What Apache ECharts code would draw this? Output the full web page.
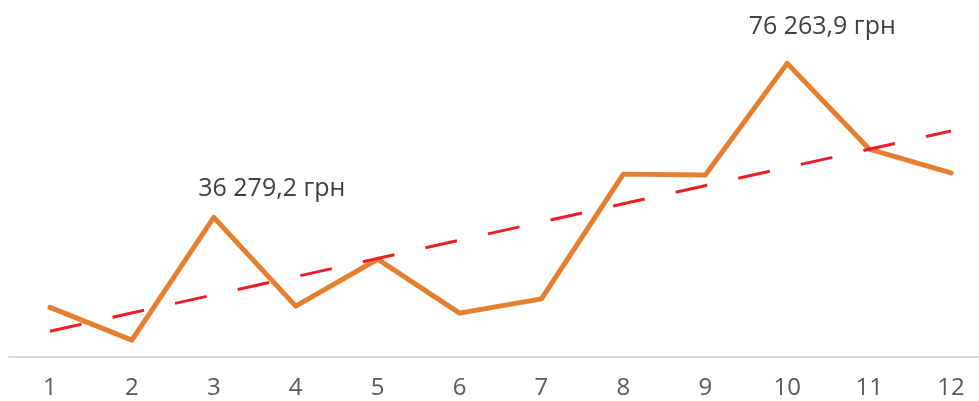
<!DOCTYPE html>
<html>
<head>
<meta charset="utf-8">
<script src="https://cdn.jsdelivr.net/npm/echarts@6/dist/echarts.min.js"></script>
<style>
  html, body { margin: 0; padding: 0; background: #fff; }
  #chart { width: 979px; height: 401px; }
</style>
</head>
<body>
<div id="chart"></div>
<script>
var months = ['1', '2', '3', '4', '5', '6', '7', '8', '9', '10', '11', '12'];
var revenue = [12900, 4400, 36279.2, 13200, 25400, 11400, 15100, 47500, 47300, 76263.9, 54000, 47800];
// linear trend, read at first and last category
var trendStart = 6700;
var trendEnd = 58700;
// which points carry a label, and where it sits
var labelled = { 2: [58, -11], 9: [35, -19] };

function fmt(v) {
  var parts = v.toFixed(1).split('.');
  var int = parts[0].replace(/\B(?=(\d{3})+(?!\d))/g, ' ');
  return int + ',' + parts[1] + ' грн';
}

var lineData = revenue.map(function (v, i) {
  var item = { value: v };
  if (labelled[i]) {
    item.label = {
      show: true,
      position: 'top',
      offset: labelled[i],
      formatter: function (p) { return fmt(p.value); },
      fontFamily: 'Open Sans',
      fontSize: 25,
      color: '#404040'
    };
  }
  return item;
});

var chart = echarts.init(document.getElementById('chart'));
chart.setOption({
  animation: false,
  grid: { left: 9, width: 983, top: 49, bottom: 44, containLabel: false, outerBoundsMode: 'none' },
  xAxis: {
    type: 'category',
    data: months,
    boundaryGap: true,
    axisLine: { show: true, lineStyle: { color: '#d9d9d9', width: 2 } },
    axisTick: { show: false },
    axisLabel: {
      margin: 19,
      fontFamily: 'Open Sans',
      fontSize: 24,
      color: '#595959'
    }
  },
  yAxis: {
    type: 'value',
    min: 0,
    max: 80000,
    show: false,
    splitLine: { show: false }
  },
  series: [
    {
      name: 'Выручка',
      type: 'line',
      data: lineData,
      symbol: 'circle',
      symbolSize: 0,
      showSymbol: true,
      lineStyle: { color: '#e67e30', width: 5, cap: 'round', join: 'round' },
      itemStyle: { color: '#e67e30' },
      z: 3,
      markLine: {
        silent: true,
        symbol: 'none',
        label: { show: false },
        lineStyle: { color: '#ee1c25', width: 3, type: [32.3, 31.8], cap: 'butt' },
        data: [[
          { coord: [0, trendStart] },
          { coord: [11, trendEnd] }
        ]],
        z: 4
      }
    }
  ]
});
</script>
</body>
</html>
